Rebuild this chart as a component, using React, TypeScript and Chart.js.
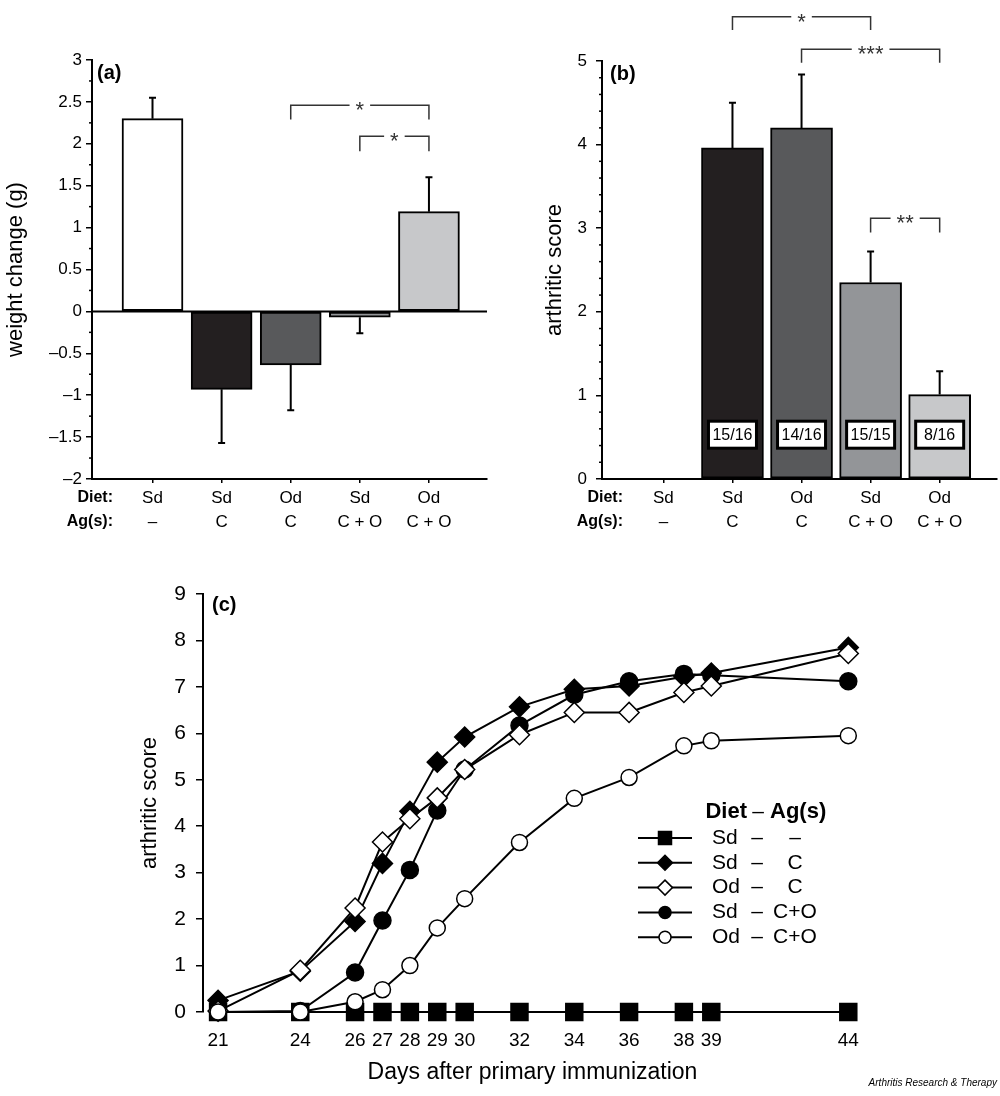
import React, { useEffect, useRef } from 'react';
import { Chart, registerables } from 'chart.js';

Chart.register(...registerables);

const FONT = '"Liberation Sans", Arial, Helvetica, sans-serif';

// ---------- shared group definitions (panels a and b) ----------
const groupPositions = [1, 2, 3, 4, 5];
const dietLabels = ['Sd', 'Sd', 'Od', 'Sd', 'Od'];
const antigenLabels = ['–', 'C', 'C', 'C + O', 'C + O'];
const groupColors = ['#ffffff', '#231f20', '#58595b', '#939598', '#c7c8ca'];

// ---------- panel (a) ----------
const weightChange = [2.3, -0.93, -0.64, -0.07, 1.19];
const weightErrorEnd = [2.55, -1.57, -1.18, -0.26, 1.6];
const weightBrackets = [
  { from: 3, to: 5, top: 2.46, bottom: 2.29, label: '*' },
  { from: 4, to: 5, top: 2.09, bottom: 1.91, label: '*' },
];

// ---------- panel (b) ----------
const scoreMean = [0, 3.96, 4.2, 2.35, 1.01];
const scoreErrorEnd = [0, 4.5, 4.84, 2.72, 1.29];
const incidence = ['', '15/16', '14/16', '15/15', '8/16'];
const scoreBrackets = [
  { from: 2, to: 4, top: 5.53, bottom: 5.37, label: '*' },
  { from: 3, to: 5, top: 5.14, bottom: 4.98, label: '***' },
  { from: 4, to: 5, top: 3.12, bottom: 2.95, label: '**' },
];

// ---------- panel (c) ----------
const days = [21, 24, 26, 27, 28, 29, 30, 32, 34, 36, 38, 39, 44];
const sdNone = [0, 0, 0, 0, 0, 0, 0, 0, 0, 0, 0, 0, 0];
const sdC = [0.25, 0.88, 1.95, 3.2, 4.32, 5.38, 5.92, 6.57, 6.95, 7.02, 7.22, 7.3, 7.85];
const odC = [0.02, 0.9, 2.24, 3.66, 4.16, 4.61, 5.22, 5.97, 6.45, 6.45, 6.88, 7.02, 7.72];
const sdCO = [0, 0.02, 0.85, 1.97, 3.06, 4.34, 5.22, 6.17, 6.83, 7.12, 7.28, 7.25, 7.12];
const odCO = [0, 0, 0.22, 0.48, 1.0, 1.81, 2.44, 3.65, 4.6, 5.05, 5.73, 5.84, 5.95];
const legendDiet = ['Sd', 'Sd', 'Od', 'Sd', 'Od'];
const legendAg = ['–', 'C', 'C', 'C+O', 'C+O'];

type Bracket = { from: number; to: number; top: number; bottom: number; label: string };

function drawBracket(ctx: CanvasRenderingContext2D, xs: any, ys: any, b: Bracket) {
  const x1 = xs.getPixelForValue(b.from);
  const x2 = xs.getPixelForValue(b.to);
  const yt = ys.getPixelForValue(b.top);
  const yb = ys.getPixelForValue(b.bottom);
  const xm = (x1 + x2) / 2;
  ctx.font = `22px ${FONT}`;
  const w = ctx.measureText(b.label).width;
  const gap = w / 2 + 6;
  ctx.strokeStyle = '#333';
  ctx.lineWidth = 1.5;
  ctx.beginPath();
  ctx.moveTo(x1, yb);
  ctx.lineTo(x1, yt);
  ctx.lineTo(xm - gap, yt);
  ctx.moveTo(xm + gap, yt);
  ctx.lineTo(x2, yt);
  ctx.lineTo(x2, yb);
  ctx.stroke();
  ctx.fillStyle = '#333';
  ctx.textAlign = 'center';
  ctx.textBaseline = 'middle';
  ctx.fillText(b.label, xm, yt + 6);
}

interface BarPanel {
  values: number[];
  errors: number[];
  yMin: number;
  yMax: number;
  step: number;
  minor: number;
  xMin: number;
  xMax: number;
  yTitle: string;
  yTitlePad: number;
  yTickPad: number;
  barThickness: number;
  panelLabel: string;
  panelLabelX: number;
  headerRight: number;
  brackets: Bracket[];
  padding: { left: number; top: number; right: number; bottom: number };
  yWidth: number;
  zeroLine: boolean;
  boxes?: string[];
  boxValue?: number;
}

function fmtTick(v: number) {
  const r = Math.round(v * 100) / 100;
  if (r < 0) return '–' + String(Math.abs(r));
  return String(r);
}

function barConfig(p: BarPanel): any {
  const plugin = {
    id: 'barDecor',
    afterDatasetsDraw(chart: any) {
      const ctx: CanvasRenderingContext2D = chart.ctx;
      const a = chart.chartArea;
      const xs = chart.scales.x;
      const ys = chart.scales.y;
      ctx.save();
      ctx.strokeStyle = '#000';
      ctx.lineWidth = 2;
      if (p.zeroLine) {
        const y0 = ys.getPixelForValue(0);
        ctx.beginPath();
        ctx.moveTo(a.left, y0);
        ctx.lineTo(a.right, y0);
        ctx.stroke();
      }
      p.values.forEach((v, i) => {
        const e = p.errors[i];
        if (e === v) return;
        const x = xs.getPixelForValue(groupPositions[i]);
        const yv = ys.getPixelForValue(v);
        const ye = ys.getPixelForValue(e);
        ctx.beginPath();
        ctx.moveTo(x, yv);
        ctx.lineTo(x, ye);
        ctx.moveTo(x - 3.5, ye);
        ctx.lineTo(x + 3.5, ye);
        ctx.stroke();
      });
      if (p.boxes) {
        const yc = ys.getPixelForValue(p.boxValue || 0);
        p.boxes.forEach((t, i) => {
          if (!t) return;
          const x = xs.getPixelForValue(groupPositions[i]);
          const w = 48;
          const h = 27;
          ctx.fillStyle = '#fff';
          ctx.fillRect(x - w / 2, yc - h / 2, w, h);
          ctx.strokeStyle = '#000';
          ctx.lineWidth = 3;
          ctx.strokeRect(x - w / 2, yc - h / 2, w, h);
          ctx.fillStyle = '#000';
          ctx.font = `16px ${FONT}`;
          ctx.textAlign = 'center';
          ctx.textBaseline = 'middle';
          ctx.fillText(t, x, yc + 1);
        });
      }
      ctx.restore();
    },
    afterDraw(chart: any) {
      const ctx: CanvasRenderingContext2D = chart.ctx;
      const a = chart.chartArea;
      const xs = chart.scales.x;
      const ys = chart.scales.y;
      ctx.save();
      // minor ticks
      ctx.strokeStyle = '#000';
      ctx.lineWidth = 1.5;
      const n = Math.round((p.yMax - p.yMin) / p.minor);
      for (let k = 0; k <= n; k++) {
        const v = p.yMin + k * p.minor;
        const q = v / p.step;
        if (Math.abs(q - Math.round(q)) < 1e-6) continue;
        const y = ys.getPixelForValue(v);
        ctx.beginPath();
        ctx.moveTo(a.left - 3, y);
        ctx.lineTo(a.left, y);
        ctx.stroke();
      }
      // brackets
      p.brackets.forEach((b) => drawBracket(ctx, xs, ys, b));
      // row headers
      ctx.fillStyle = '#000';
      ctx.font = `bold 16px ${FONT}`;
      ctx.textAlign = 'right';
      ctx.textBaseline = 'middle';
      ctx.fillText('Diet:', p.headerRight, a.bottom + 19);
      ctx.fillText('Ag(s):', p.headerRight, a.bottom + 43);
      // panel label
      ctx.font = `bold 20px ${FONT}`;
      ctx.textAlign = 'left';
      ctx.fillText(p.panelLabel, p.panelLabelX, a.top + 13);
      ctx.restore();
    },
  };

  return {
    type: 'bar',
    data: {
      datasets: [
        {
          data: groupPositions.map((x, i) => ({ x, y: p.values[i] })),
          backgroundColor: groupColors,
          borderColor: '#000',
          borderWidth: 2,
          borderSkipped: false,
          barThickness: p.barThickness,
        },
      ],
    },
    options: {
      responsive: false,
      animation: false,
      devicePixelRatio: 1,
      layout: { padding: p.padding },
      plugins: { legend: { display: false }, tooltip: { enabled: false } },
      scales: {
        x: {
          type: 'linear',
          min: p.xMin,
          max: p.xMax,
          offset: false,
          afterBuildTicks: (s: any) => {
            s.ticks = groupPositions.map((v) => ({ value: v }));
          },
          afterFit: (s: any) => {
            s.height = 60;
            s.paddingLeft = 0;
            s.paddingRight = 0;
          },
          grid: { display: true, drawOnChartArea: false, drawTicks: true, tickLength: 4, color: '#000', lineWidth: 1.5, offset: false },
          border: { display: true, color: '#000', width: 2 },
          ticks: {
            autoSkip: false,
            maxRotation: 0,
            minRotation: 0,
            padding: 3,
            color: '#000',
            font: { family: FONT, size: 17, lineHeight: 24 / 17 },
            callback: (_v: any, i: number) => [dietLabels[i], antigenLabels[i]],
          },
        },
        y: {
          min: p.yMin,
          max: p.yMax,
          afterFit: (s: any) => {
            s.width = p.yWidth;
            s.paddingTop = 0;
            s.paddingBottom = 0;
          },
          grid: { display: true, drawOnChartArea: false, drawTicks: true, tickLength: 6, color: '#000', lineWidth: 1.5 },
          border: { display: true, color: '#000', width: 2 },
          ticks: {
            stepSize: p.step,
            autoSkip: false,
            padding: p.yTickPad,
            color: '#000',
            font: { family: FONT, size: 17 },
            callback: (v: any) => fmtTick(Number(v)),
          },
          title: {
            display: true,
            text: p.yTitle,
            color: '#000',
            font: { family: FONT, size: 22 },
            padding: { top: p.yTitlePad, bottom: 0 },
          },
        },
      },
    },
    plugins: [plugin],
  };
}

function drawMarker(ctx: CanvasRenderingContext2D, style: string, x: number, y: number, r: number, fill: string) {
  ctx.beginPath();
  if (style === 'rect') {
    ctx.rect(x - r, y - r, 2 * r, 2 * r);
  } else if (style === 'rectRot') {
    ctx.moveTo(x - r, y);
    ctx.lineTo(x, y - r);
    ctx.lineTo(x + r, y);
    ctx.lineTo(x, y + r);
    ctx.closePath();
  } else {
    ctx.arc(x, y, r, 0, Math.PI * 2);
  }
  ctx.fillStyle = fill;
  ctx.fill();
  ctx.strokeStyle = '#000';
  ctx.lineWidth = 1.5;
  ctx.stroke();
}

const seriesStyles = [
  { values: sdNone, style: 'rect', radius: 12, fill: '#000', order: 5, legendR: 6.5 },
  { values: sdC, style: 'rectRot', radius: 10, fill: '#000', order: 4, legendR: 7.5 },
  { values: odC, style: 'rectRot', radius: 10, fill: '#fff', order: 2, legendR: 7.5 },
  { values: sdCO, style: 'circle', radius: 8.5, fill: '#000', order: 3, legendR: 6 },
  { values: odCO, style: 'circle', radius: 8, fill: '#fff', order: 1, legendR: 6 },
];

function lineConfig(): any {
  const plugin = {
    id: 'lineDecor',
    afterDraw(chart: any) {
      const ctx: CanvasRenderingContext2D = chart.ctx;
      const a = chart.chartArea;
      ctx.save();
      ctx.fillStyle = '#000';
      ctx.font = `bold 20px ${FONT}`;
      ctx.textAlign = 'left';
      ctx.textBaseline = 'middle';
      ctx.fillText('(c)', a.left + 9, a.top + 11);

      // legend
      const headerY = a.top + 218;
      ctx.font = `bold 22px ${FONT}`;
      ctx.textAlign = 'right';
      ctx.fillText('Diet', 647, headerY);
      ctx.font = `21px ${FONT}`;
      ctx.textAlign = 'center';
      ctx.fillText('–', 658, headerY);
      ctx.font = `bold 22px ${FONT}`;
      ctx.textAlign = 'left';
      ctx.fillText('Ag(s)', 670, headerY);

      seriesStyles.forEach((s, i) => {
        const y = a.top + 244 + i * 24.8;
        ctx.strokeStyle = '#000';
        ctx.lineWidth = 2;
        ctx.beginPath();
        ctx.moveTo(538, y);
        ctx.lineTo(592, y);
        ctx.stroke();
        drawMarker(ctx, s.style, 565, y, s.legendR, s.fill);
        ctx.fillStyle = '#000';
        ctx.font = `21px ${FONT}`;
        ctx.textAlign = 'left';
        ctx.fillText(legendDiet[i], 612, y);
        ctx.textAlign = 'center';
        ctx.fillText('–', 657, y);
        ctx.fillText(legendAg[i], 695, y);
      });
      ctx.restore();
    },
  };

  return {
    type: 'line',
    data: {
      datasets: seriesStyles.map((s) => ({
        data: days.map((d, i) => ({ x: d, y: s.values[i] })),
        borderColor: '#000',
        borderWidth: 2,
        pointStyle: s.style,
        pointRadius: s.radius,
        pointBackgroundColor: s.fill,
        pointBorderColor: '#000',
        pointBorderWidth: 1.5,
        order: s.order,
        clip: false,
        tension: 0,
      })),
    },
    options: {
      responsive: false,
      animation: false,
      devicePixelRatio: 1,
      layout: { padding: { left: 0, top: 24, right: 138, bottom: 0 } },
      plugins: { legend: { display: false }, tooltip: { enabled: false } },
      scales: {
        x: {
          type: 'linear',
          min: 20.45,
          max: 44.5,
          afterBuildTicks: (s: any) => {
            s.ticks = days.map((v) => ({ value: v }));
          },
          afterFit: (s: any) => {
            s.height = 84;
            s.paddingLeft = 0;
            s.paddingRight = 0;
          },
          grid: { display: false, drawTicks: false },
          border: { display: false },
          ticks: {
            autoSkip: false,
            maxRotation: 0,
            minRotation: 0,
            padding: 17,
            color: '#000',
            font: { family: FONT, size: 19 },
            callback: (v: any) => String(v),
          },
          title: {
            display: true,
            text: 'Days after primary immunization',
            color: '#000',
            font: { family: FONT, size: 23 },
            padding: { top: 0, bottom: 10 },
          },
        },
        y: {
          min: 0,
          max: 9,
          afterFit: (s: any) => {
            s.width = 103;
            s.paddingTop = 0;
            s.paddingBottom = 0;
          },
          grid: { display: true, drawOnChartArea: false, drawTicks: true, tickLength: 7, color: '#000', lineWidth: 1.5 },
          border: { display: true, color: '#000', width: 2 },
          ticks: {
            stepSize: 1,
            padding: 10,
            color: '#000',
            font: { family: FONT, size: 21 },
          },
          title: {
            display: true,
            text: 'arthritic score',
            color: '#000',
            font: { family: FONT, size: 22 },
            padding: { top: 37, bottom: 0 },
          },
        },
      },
    },
    plugins: [plugin],
  };
}

function ChartCanvas(props: { left: number; top: number; width: number; height: number; make: () => any }) {
  const ref = useRef<HTMLCanvasElement>(null);
  useEffect(() => {
    const chart = new Chart(ref.current as HTMLCanvasElement, props.make());
    return () => chart.destroy();
  }, []);
  return (
    <canvas
      ref={ref}
      width={props.width}
      height={props.height}
      style={{ position: 'absolute', left: props.left, top: props.top, width: props.width, height: props.height }}
    />
  );
}

const panelA: BarPanel = {
  values: weightChange,
  errors: weightErrorEnd,
  yMin: -2,
  yMax: 3,
  step: 0.5,
  minor: 0.25,
  xMin: 0.1245,
  xMax: 5.84,
  yTitle: 'weight change (g)',
  yTitlePad: 3,
  yTickPad: 4,
  barThickness: 61,
  panelLabel: '(a)',
  panelLabelX: 97,
  headerRight: 113,
  brackets: weightBrackets,
  padding: { left: 0, top: 60, right: 8, bottom: 21 },
  yWidth: 92,
  zeroLine: true,
};

const panelB: BarPanel = {
  values: scoreMean,
  errors: scoreErrorEnd,
  yMin: 0,
  yMax: 5,
  step: 1,
  minor: 0.2,
  xMin: 0.111,
  xMax: 5.83,
  yTitle: 'arthritic score',
  yTitlePad: 47,
  yTickPad: 9,
  barThickness: 62,
  panelLabel: '(b)',
  panelLabelX: 115,
  headerRight: 128,
  brackets: scoreBrackets,
  padding: { left: 0, top: 61, right: 3, bottom: 21 },
  yWidth: 107,
  zeroLine: false,
  boxes: incidence,
  boxValue: 0.53,
};

export default function App() {
  return (
    <div style={{ position: 'absolute', left: 0, top: 0, width: 1000, height: 1096, background: '#fff', overflow: 'hidden' }}>
      <ChartCanvas left={0} top={0} width={495} height={560} make={() => barConfig(panelA)} />
      <ChartCanvas left={495} top={0} width={505} height={560} make={() => barConfig(panelB)} />
      <ChartCanvas left={100} top={570} width={900} height={526} make={lineConfig} />
      <div
        style={{
          position: 'absolute',
          right: 3,
          top: 1077,
          fontFamily: FONT,
          fontStyle: 'italic',
          fontSize: 10,
          color: '#000',
          whiteSpace: 'nowrap',
        }}
      >
        Arthritis Research &amp; Therapy
      </div>
    </div>
  );
}
